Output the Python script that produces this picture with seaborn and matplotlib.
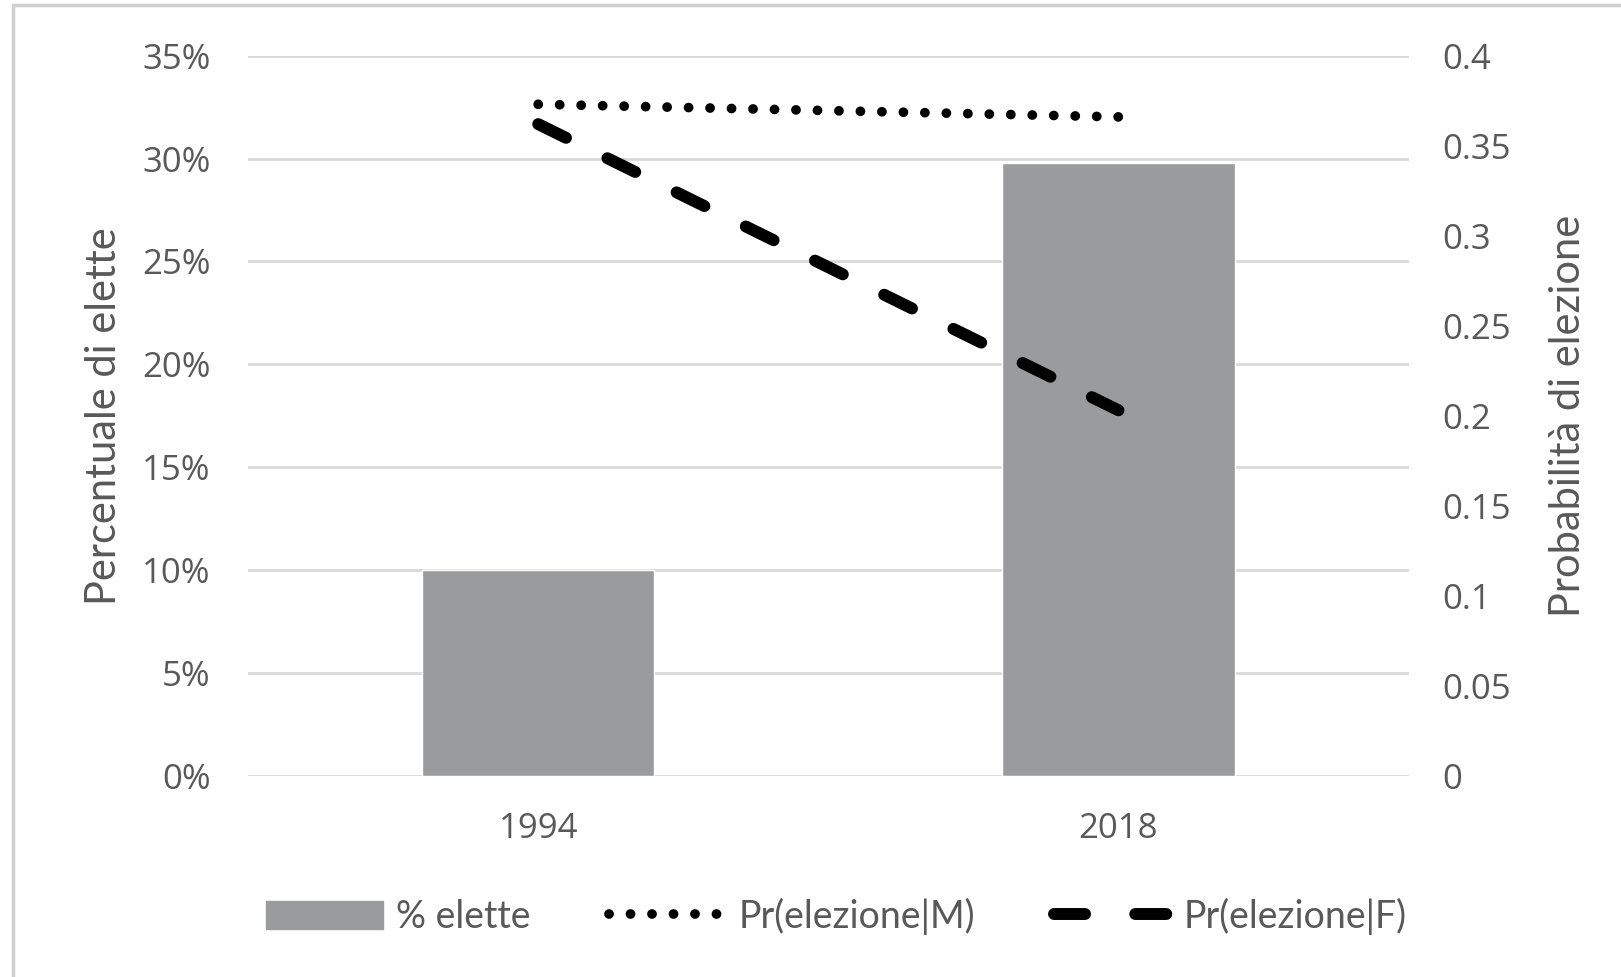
import numpy as np
import pandas as pd
import matplotlib
matplotlib.use("Agg")
import matplotlib.pyplot as plt
import matplotlib.ticker as mtick
from matplotlib.patches import Patch, Rectangle
from matplotlib.lines import Line2D
import seaborn as sns

# ---- dati ----
anni      = ["1994", "2018"]
pct_elette = [10.0, 29.8]          # % elette (asse sinistro)
pr_m      = [0.373, 0.366]         # Pr(elezione|M) (asse destro)
pr_f      = [0.362, 0.203]         # Pr(elezione|F) (asse destro)

left_ticks  = [0, 5, 10, 15, 20, 25, 30, 35]
right_ticks = [0, 0.05, 0.1, 0.15, 0.2, 0.25, 0.3, 0.35, 0.4]
right_labels = ["0", "0.05", "0.1", "0.15", "0.2", "0.25", "0.3", "0.35", "0.4"]

TXT   = "#595959"
GRID  = "#d9d9d9"
BAR   = "#999b9c"
TICKFONT  = "Open Sans"
LABELFONT = "Lato"
DOT  = (0.01, 2.2)     # stile Pr(elezione|M)
DASH = (2.6, 3.86)     # stile Pr(elezione|F)

sns.set_theme(style="white")
plt.rcParams["font.family"] = ["Lato", "DejaVu Sans"]

df_bar = pd.DataFrame({"anno": anni, "pct": pct_elette})
df_lin = pd.DataFrame({"anno": anni, "m": pr_m, "f": pr_f})

fig = plt.figure(figsize=(16.21, 9.77), dpi=100)
ax = fig.add_axes([0.153, 0.206, 0.716, 0.737])

sns.barplot(data=df_bar, x="anno", y="pct", color=BAR, width=0.4,
            saturation=1, ax=ax, zorder=2)
ax.set_ylim(0, 35)
ax.set_yticks(left_ticks)
ax.yaxis.set_major_formatter(mtick.FuncFormatter(lambda v, p: f"{v:.0f}%"))
ax.grid(axis="y", color=GRID, linewidth=2, zorder=0)
ax.set_axisbelow(True)
for s in ax.spines.values():
    s.set_visible(False)
ax.set_xlabel("")
ax.set_ylabel("Percentuale di elette", fontsize=30, color=TXT,
              family=LABELFONT, labelpad=14)
ax.tick_params(axis="y", length=0, pad=27, labelsize=25, labelcolor=TXT)
ax.tick_params(axis="x", length=0, pad=26, labelsize=25, labelcolor=TXT)
for lab in ax.get_yticklabels() + ax.get_xticklabels():
    lab.set_family(TICKFONT)

# linee sull'asse destro
ax2 = ax.twinx()
sns.lineplot(data=df_lin, x="anno", y="m", ax=ax2, color="black",
             linewidth=7, dashes=False, sort=False)
sns.lineplot(data=df_lin, x="anno", y="f", ax=ax2, color="black",
             linewidth=8.6, dashes=False, sort=False)
l_m, l_f = ax2.get_lines()[:2]
l_m.set_dashes(DOT)
l_m.set_dash_capstyle("round")
l_f.set_dashes(DASH)
l_f.set_dash_capstyle("round")

ax2.set_ylim(0, 0.4)
ax2.set_yticks(right_ticks)
ax2.set_yticklabels(right_labels)
ax.set_xlim(-0.5, len(anni) - 0.5)
for s in ax2.spines.values():
    s.set_visible(False)
ax2.grid(False)
ax2.set_xlabel("")
ax2.set_ylabel("Probabilità di elezione", fontsize=30, color=TXT,
               family=LABELFONT, labelpad=28)
ax2.tick_params(axis="y", length=0, pad=24, labelsize=25, labelcolor=TXT)
for lab in ax2.get_yticklabels():
    lab.set_family(TICKFONT)

handles = [
    Patch(facecolor=BAR, edgecolor=BAR),
    Line2D([0], [0], color="black", linewidth=7, dashes=DOT,
           dash_capstyle="round"),
    Line2D([0], [0], color="black", linewidth=8.6, dashes=(2.6, 4.2),
           dash_capstyle="round"),
]
leg = fig.legend(handles, ["% elette", "Pr(elezione|M)", "Pr(elezione|F)"],
                 loc="center", bbox_to_anchor=(0.516, 0.062), ncol=3,
                 frameon=False, fontsize=27, handlelength=3.1,
                 handleheight=0.8, columnspacing=2.1, handletextpad=0.35)
for t in leg.get_texts():
    t.set_color(TXT)

# bordo esterno
fig.patches.append(Rectangle((0.008, -0.05), 1.2, 1.045, transform=fig.transFigure,
                             fill=False, edgecolor="#d0d0d0", linewidth=2.5))

fig.savefig("out.png", dpi=100)
